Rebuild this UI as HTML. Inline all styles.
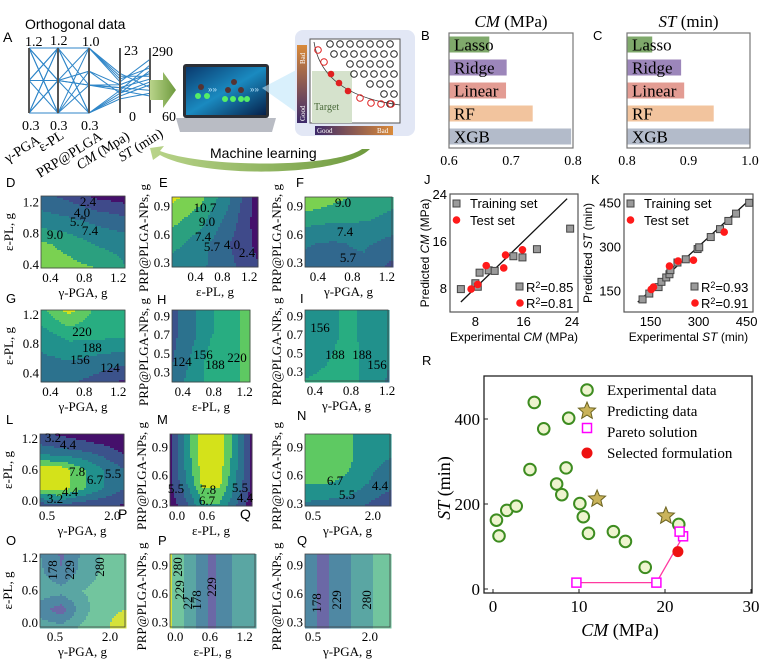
<!DOCTYPE html>
<html><head><meta charset="utf-8"><style>
html,body{margin:0;padding:0;background:#fff;}
svg{display:block;}
.serif{font-family:"Liberation Serif",serif;}
.sans{font-family:"Liberation Sans",sans-serif;}
</style></head><body>
<svg id="fig" width="764" height="671" viewBox="0 0 764 671" xmlns="http://www.w3.org/2000/svg">
<defs>
<linearGradient id="scr" x1="0" y1="0" x2="1" y2="1"><stop offset="0" stop-color="#0a3a6e"/><stop offset="0.5" stop-color="#1a8ac0"/><stop offset="1" stop-color="#06204a"/></linearGradient>
<linearGradient id="vbar" x1="0" y1="0" x2="0" y2="1"><stop offset="0" stop-color="#d98a3a"/><stop offset="1" stop-color="#3d2a6a"/></linearGradient>
<linearGradient id="hbar" x1="0" y1="0" x2="1" y2="0"><stop offset="0" stop-color="#3d2a6a"/><stop offset="1" stop-color="#d98a3a"/></linearGradient>
<linearGradient id="arr" x1="0" y1="0" x2="1" y2="0"><stop offset="0" stop-color="#b9d48a"/><stop offset="1" stop-color="#6e9a3e"/></linearGradient>
</defs>
<g id="panelA">
<text x="3" y="42" class="sans" font-size="14">A</text>
<text x="25" y="29" class="sans" font-size="14">Orthogonal data</text>
<g id="pcLines"></g>
<g id="pcAxes"></g>
<g class="serif" font-size="14">
<text x="25" y="46">1.2</text><text x="50" y="45">1.2</text><text x="82" y="46">1.0</text><text x="124" y="55">23</text><text x="152" y="56">290</text>
<text x="22" y="130">0.3</text><text x="50" y="130">0.3</text><text x="81" y="130">0.3</text><text x="129" y="121">0</text><text x="162" y="121">60</text>
<text transform="translate(8,163) rotate(-32)">γ-PGA</text>
<text transform="translate(42,152) rotate(-32)">ε-PL</text>
<text transform="translate(40,178) rotate(-32)">PRP@PLGA</text>
<text transform="translate(80,170) rotate(-32)"><tspan font-style="italic">CM</tspan> (Mpa)</text>
<text transform="translate(122,162) rotate(-32)"><tspan font-style="italic">ST</tspan> (min)</text>
</g>
<path d="M150,80 L163,80 L163,72 L176,90 L163,108 L163,100 L150,100 Z" fill="url(#arr)"/>
<g>
<rect x="183" y="64" width="86" height="54" rx="3" fill="#2b2f36"/>
<rect x="186" y="67" width="80" height="48" fill="url(#scr)"/>
<path d="M176,118 L276,118 L272,132 L180,132 Z" fill="#b9bcc4"/>
<g fill="#55ee66"><circle cx="198" cy="96" r="3"/><circle cx="207" cy="96" r="3"/><circle cx="225" cy="99" r="3"/><circle cx="233" cy="99" r="3"/><circle cx="241" cy="99" r="3"/><circle cx="247" cy="99" r="3"/></g>
<g fill="#553333"><circle cx="201" cy="87" r="3"/><circle cx="234" cy="82" r="3"/><circle cx="228" cy="90" r="3"/><circle cx="241" cy="90" r="3"/></g>
<text x="208" y="92" fill="#bfe8ff" font-size="8" class="sans">»»</text>
<text x="250" y="92" fill="#bfe8ff" font-size="8" class="sans">»»</text>
</g>
<path d="M262,88 L300,68 L300,115 Z" fill="#bfe6fa" opacity="0.6"/>
<g>
<rect x="295" y="30" width="120" height="106" rx="8" fill="#e2e7f5"/>
<rect x="310" y="39" width="90" height="84" fill="#fff" stroke="#555" stroke-width="1"/>
<rect x="312" y="71" width="40" height="52" fill="#d5e2cc"/>
<text x="314" y="110" class="serif" font-size="10" fill="#4a6a3a">Target</text>
<rect x="297" y="45" width="10" height="78" fill="url(#vbar)"/>
<text transform="translate(305,64) rotate(-90)" class="serif" font-size="7" fill="#fff">Bad</text>
<text transform="translate(305,121) rotate(-90)" class="serif" font-size="7" fill="#fff">Good</text>
<rect x="315" y="126" width="78" height="9" fill="url(#hbar)"/>
<text x="317" y="133" class="serif" font-size="7" fill="#fff">Good</text>
<text x="377" y="133" class="serif" font-size="7" fill="#fff">Bad</text>
<path d="M314,42 Q322,95 400,105" fill="none" stroke="#333" stroke-width="0.8"/>
<g id="schemCircles" fill="none" stroke="#222" stroke-width="1"></g>
<g fill="#e02020"><circle cx="331" cy="74" r="3.3"/><circle cx="339" cy="83" r="3.3"/><circle cx="348" cy="91" r="3.3"/></g>
<g fill="none" stroke="#e02020"><circle cx="318" cy="50" r="3.3"/><circle cx="324" cy="62" r="3.3"/><circle cx="360" cy="98" r="3.3"/><circle cx="371" cy="103" r="3.3"/><circle cx="381" cy="104" r="3.3"/><circle cx="391" cy="104" r="3.3"/></g>
</g>
<path d="M370,149 C340,178 200,178 160,155 L153,160 L150,148 L164,146 L160,151 C205,168 335,168 362,149 Z" fill="url(#arr)"/>
<text x="210" y="158" class="sans" font-size="14">Machine learning</text>
</g>

<g id="barB"></g>
<g id="barC"></g>
<g id="contours"></g>
<g id="scatJ"></g>
<g id="scatK"></g>
<g id="scatR"></g>
</svg>
<script>
// ---------- DATA ----------
const pcRows=[[1.2,1.2,1.0,14,150],[1.2,0.3,0.6,10,200],[1.2,0.75,0.3,8,120],[0.75,1.2,0.3,7,170],[0.75,0.3,1.0,12,220],[0.75,0.75,0.6,9,180],[0.3,1.2,0.6,8,230],[0.3,0.3,0.3,6,160],[0.3,0.75,1.0,11,250],[1.2,0.75,0.6,9,140],[0.3,0.75,0.75,10,200],[0.75,1.2,1.0,13,190],[0.3,1.2,0.3,5,130],[1.2,0.3,0.75,7,210]];
const modelNames=["Lasso","Ridge","Linear","RF","XGB"];
const cmScores=[0.665,0.693,0.692,0.735,0.797];
const stScores=[0.841,0.888,0.893,0.941,1.0];
const cmTicks=[0.6,0.7,0.8];
const stTicks=[0.8,0.9,1.0];
const jTrainX=[5.6,8.0,8.4,8.7,10.2,11.2,14.3,15.8,18.2,23.7];
const jTrainY=[7.8,8.8,8.2,10.6,11.0,10.9,13.4,13.2,14.6,18.1];
const jTestX=[7.3,8.4,9.8,12.7,13.0,15.8];
const jTestY=[7.8,8.6,11.8,11.4,13.6,14.5];
const jTicks=[8,16,24];
const kTrainX=[125,146,175,184,199,209,212,234,260,297,302,338,367,393,417,458];
const kTrainY=[119,139,161,179,194,205,219,245,256,291,297,332,359,387,412,449];
const kTestX=[152,159,209,236,284,380];
const kTestY=[153,161,233,250,253,349];
const kTicks=[150,300,450];
const expCM=[4.8,5.9,8.8,4.3,8.5,7.4,8.0,10.1,10.5,11.1,0.4,0.7,1.6,2.7,14.0,15.4,17.7,21.6];
const expST=[439,377,402,281,285,247,222,201,170,131,162,125,185,195,135,112,51,152];
const predCM=[12.1,20.1];
const predST=[212,172];
const paretoCM=[9.7,19.0,22.1,21.7];
const paretoST=[15,15,124,135];
const selCM=[21.5];
const selST=[88];
const rXTicks=[0,10,20,30];
const rYTicks=[0,200,400];
// contour grids (rows: top->bottom, cols: left->right)
const gridD=[[4.5,3.5,2.0,1.5],[6.5,6.0,5.2,4.5],[9.3,8.5,7.2,6.8],[9.8,9.5,9.0,7.5]];
const gridE=[[11.2,9.5,6.0,1.5],[9.5,8.0,5.0,1.5],[8.0,6.5,4.0,2.0],[6.5,6.0,4.5,2.5]];
const gridF=[[10.8,9.5,8.5,7.8],[8.0,7.6,7.5,7.0],[5.8,5.5,6.0,5.0],[5.4,5.0,5.2,3.5]];
const gridG=[[210,265,210,200],[175,200,200,195],[150,160,150,140],[135,130,110,85]];
const gridH=[[115,145,185,210,230],[115,145,185,210,230],[120,160,200,210,230],[135,170,200,210,230]];
const gridI=[[170,175,195,180,170],[170,175,195,180,170],[175,185,200,180,160],[190,195,200,180,150]];
const gridL=[[3.5,3.0,2.5,2.0,1.8],[5.0,4.8,4.5,4.0,3.0],[8.5,8.5,7.0,5.5,4.5],[8.5,8.5,7.0,5.5,4.5],[3.5,4.0,3.5,3.5,3.0]];
const gridM=[[3,6,8.5,8.5,6,3],[3,6,8.5,8.5,6,3],[3,5.5,8.2,8.2,5.5,3],[2.5,4,6.5,6.5,4.5,2.5]];
const gridN=[[7.3,7.3,7.0,5.8,5.5],[7.3,7.3,7.0,5.8,5.5],[6.9,6.8,6.5,5.5,4.8],[5.2,5.0,4.8,4.2,3.5]];
const gridO=[[230,170,240,290,300],[240,180,250,290,290],[260,250,280,300,310],[200,150,260,320,330],[260,250,290,320,370]];
const gridP=[[340,280,220,160,225,240,235],[340,280,220,160,225,240,235],[340,280,220,160,225,240,235]];
const gridQ=[[220,160,200,240,280,300],[220,160,200,240,280,300]];
const levCM1=[2.4,4.0,5.7,7.4,9.0,10.7];
const levST1=[92,124,156,188,220,252];
const levCM2=[3.2,4.4,5.5,6.7,7.8];
const levST2=[127,178,229,280,331];

// ---------- helpers ----------
const NS="http://www.w3.org/2000/svg";
function mk(tag,attrs,parent){const e=document.createElementNS(NS,tag);for(const k in attrs)e.setAttribute(k,attrs[k]);if(parent)parent.appendChild(e);return e;}
function txt(parent,x,y,s,size,cls,anchor,extra){const t=mk('text',{x:x,y:y,'font-size':size,class:cls,'text-anchor':anchor||'start'},parent);if(extra)for(const k in extra)t.setAttribute(k,extra[k]);t.textContent=s;return t;}

// ---------- Panel A ----------
(function(){
  const g=document.getElementById('pcLines'), ga=document.getElementById('pcAxes');
  const ax=[29,58,89,120,150], top=48, bot=113;
  const mins=[0.3,0.3,0.3,0,60], maxs=[1.2,1.2,1.0,23,290];
  const ys=(i,v)=>bot-(v-mins[i])/(maxs[i]-mins[i])*(bot-top);
  pcRows.forEach(r=>{
    const pts=r.map((v,i)=>ax[i]+','+ys(i,v)).join(' ');
    const l=mk('polyline',{points:pts,fill:'none',stroke:'#2f86c8','stroke-width':1},g);
    
    
  });
  ax.forEach(x=>{const l=mk('line',{x1:x,y1:top,x2:x,y2:bot,stroke:'#555','stroke-width':2},ga);
    });
  const sc=document.getElementById('schemCircles');
  for(let r=0;r<7;r++)for(let c=0;c<7;c++){const cx=330+c*10+(r%2)*4, cy=44+r*10;
    if(cx>398)continue; if(cy>44+ (cx-320)*0.9 && r>1) continue;
    if((cx-312)*(cy-40)<600 && r>=2) continue;
    mk('circle',{cx:cx,cy:cy,r:3.3},sc);}
})();

// ---------- Bar charts ----------
const barColors=['#7fa96b','#9c86ba','#e39c93','#f2c49e','#b3bbca'];
function barChart(id,x0,x1,y0,y1,dmin,dmax,vals,ticks,title,letter,lx){
  const g=document.getElementById(id);
  const sx=v=>x0+(v-dmin)/(dmax-dmin)*(x1-x0);
  const rowH=(y1-y0)/5;
  vals.forEach((v,i)=>{
    const r=mk('rect',{x:x0,y:y0+i*rowH+3.5,width:sx(v)-x0,height:rowH-7,fill:barColors[i]},g);
    
    
    const t=txt(g,x0+5,y0+i*rowH+rowH/2+6,modelNames[i],17,'serif');
    
  });
  const fr=mk('rect',{x:x0,y:y0,width:x1-x0,height:y1-y0,fill:'none',stroke:'#777','stroke-width':1.2},g);
  
  ticks.forEach(v=>{const t=txt(g,sx(v),y1+17,v.toFixed(1),14,'serif','middle');
    });
  const tt=mk('text',{x:(x0+x1)/2,y:y0-6,'font-size':17,class:'serif','text-anchor':'middle'},g);
  tt.innerHTML='<tspan font-style="italic">'+title[0]+'</tspan> '+title[1];
  
  const L=txt(g,lx,y0+7,letter,13,'sans');
  
}
barChart('barB',449,573,33,148,0.6,0.8,cmScores,cmTicks,['CM','(MPa)'],'B',421);
barChart('barC',627,750,33,148,0.8,1.0,stScores,stTicks,['ST','(min)'],'C',593);

// ---------- Contours ----------
const palCM1=['#45106b','#3f4a8a','#31688e','#26828e','#2ba07f','#7ad151','#dce319'];
const palST1=['#46217a','#3b528b','#2c728e','#21918c','#28ad81','#5ec962','#d2e21b'];
const palCM2=['#45106b','#3b528b','#2c728e','#21918c','#5ec962','#d4e21a'];
const palST2=['#5b3f86','#6b68a6','#4f88a3','#5aa6a3','#72c59e','#d5e23a'];
function contour(p){
  const g=mk('g',{},document.getElementById('contours'));
  
  
  const R=p.grid.length,C=p.grid[0].length,cs=2;
  const nx=Math.ceil(p.w/cs), ny=Math.ceil(p.h/cs);
  for(let j=0;j<ny;j++)for(let i=0;i<nx;i++){
    const u=(i+0.5)/nx, v=(j+0.5)/ny;
    const gx=u*(C-1), gy=v*(R-1);
    const c0=Math.min(Math.floor(gx),C-2<0?0:C-2), r0=Math.min(Math.floor(gy),R-2<0?0:R-2);
    const fx=C>1?gx-c0:0, fy=R>1?gy-r0:0;
    const c1=Math.min(c0+1,C-1), r1=Math.min(r0+1,R-1);
    const val=(p.grid[r0][c0]*(1-fx)+p.grid[r0][c1]*fx)*(1-fy)+(p.grid[r1][c0]*(1-fx)+p.grid[r1][c1]*fx)*fy;
    let k=0; while(k<p.levels.length && val>=p.levels[k])k++;
    mk('rect',{x:p.x+i*cs,y:p.y+j*cs,width:cs+0.3,height:cs+0.3,fill:p.pal[k],'shape-rendering':'crispEdges'},g);
  }
  const fr=mk('rect',{x:p.x,y:p.y,width:p.w,height:p.h,fill:'none',stroke:'#444','stroke-width':0.8},g);
  
  const sx=v=>p.x+(v-p.xr[0])/(p.xr[1]-p.xr[0])*p.w;
  const sy=v=>p.y+p.h-(v-p.yr[0])/(p.yr[1]-p.yr[0])*p.h;
  p.xt.forEach(v=>{const t=txt(g,sx(v),p.y+p.h+14,v.toFixed(1),13,'serif','middle');
    });
  p.yt.forEach(v=>{const t=txt(g,p.x-2,sy(v)+4,v.toFixed(1),13,'serif','end');
    });
  const xt=txt(g,p.x+p.w/2,p.y+p.h+29,p.xl,13,'serif','middle');
  
  const yx=p.x-(p.yl.length>8?24:28), yc=p.y+p.h/2+(p.yl.length>8?6:0);
  const yt=txt(g,yx,yc,p.yl,13,'serif','middle',{transform:'rotate(-90 '+yx+' '+yc+')'});
  
  p.labels.forEach(l=>{const t=txt(g,l[1],l[2]+4,l[0],13,'serif','middle',l[3]?{transform:'rotate(-90 '+l[1]+' '+l[2]+')'}:null);
    });
  const L=txt(g,p.lx,p.ly,p.letter,13,'sans');
  
}
const GA='γ-PGA, g', EP='ε-PL, g', PR='PRP@PLGA-NPs, g';
contour({letter:'D',lx:6,ly:187,x:41,y:196,w:84,h:72,grid:gridD,levels:levCM1,pal:palCM1,xr:[0.29,1.28],yr:[0.36,1.28],xt:[0.4,0.8,1.2],yt:[0.4,0.8,1.2],xl:GA,yl:'ε-PL, g',
 labels:[['2.4',88,202],['4.0',82,213],['5.7',78,222],['7.4',90,231],['9.0',55,235]]});
contour({letter:'E',lx:159,ly:187,x:172,y:197,w:86,h:70,grid:gridE,levels:levCM1,pal:palCM1,xr:[0.05,1.33],yr:[0.26,1.0],xt:[0.4,0.8,1.2],yt:[0.3,0.6,0.9],xl:EP,yl:PR,
 labels:[['10.7',205,208],['9.0',207,222],['7.4',203,237],['5.7',212,247],['4.0',232,245],['2.4',247,253]]});
contour({letter:'F',lx:296,ly:187,x:305,y:197,w:87,h:70,grid:gridF,levels:levCM1,pal:palCM1,xr:[0.25,1.26],yr:[0.26,1.0],xt:[0.4,0.8,1.2],yt:[0.3,0.6,0.9],xl:GA,yl:PR,
 labels:[['9.0',343,203],['7.4',345,232],['5.7',348,258]]});
contour({letter:'G',lx:6,ly:303,x:41,y:310,w:84,h:72,grid:gridG,levels:levST1,pal:palST1,xr:[0.29,1.28],yr:[0.28,1.27],xt:[0.4,0.8,1.2],yt:[0.4,0.8,1.2],xl:GA,yl:'ε-PL, g',
 labels:[['220',82,332],['188',92,348],['156',80,360],['124',110,368]]});
contour({letter:'H',lx:157,ly:304,x:172,y:310,w:78,h:72,grid:gridH,levels:levST1,pal:palST1,xr:[0.26,1.27],yr:[0.2,0.97],xt:[0.4,0.8,1.2],yt:[0.3,0.5,0.7,0.9],xl:EP,yl:PR,
 labels:[['124',182,362],['156',203,355],['188',215,365],['220',237,358]]});
contour({letter:'I',lx:300,ly:303,x:305,y:310,w:83,h:71,grid:gridI,levels:levST1,pal:palST1,xr:[0.29,1.21],yr:[0.2,0.97],xt:[0.4,0.8,1.2],yt:[0.3,0.5,0.7,0.9],xl:GA,yl:PR,
 labels:[['156',320,328],['188',335,355],['188',362,355],['156',377,365]]});
contour({letter:'L',lx:6,ly:424,x:40,y:434,w:84,h:72,grid:gridL,levels:levCM2,pal:palCM2,xr:[0.34,2.27],yr:[-0.1,1.3],xt:[0.5,2.0],yt:[0.0,0.6,1.2],xl:GA,yl:'ε-PL, g',
 labels:[['3.2',53,438],['4.4',68,445],['7.8',77,472],['6.7',95,480],['5.5',113,474],['4.4',70,492],['3.2',55,499]]});
contour({letter:'M',lx:157,ly:424,x:170,y:434,w:82,h:72,grid:gridM,levels:levCM2,pal:palCM2,xr:[-0.14,1.5],yr:[0.28,1.04],xt:[0.0,0.6],yt:[0.3,0.6,0.9],xl:EP,yl:PR,
 labels:[['5.5',176,489],['7.8',208,490],['5.5',240,488],['4.4',245,498],['6.7',207,501]]});
contour({letter:'N',lx:297,ly:420,x:305,y:434,w:85,h:72,grid:gridN,levels:levCM2,pal:palCM2,xr:[0.3,2.43],yr:[0.28,1.04],xt:[0.5,2.0],yt:[0.3,0.6,0.9],xl:GA,yl:PR,
 labels:[['6.7',335,481],['5.5',347,495],['4.4',380,486]]});
contour({letter:'O',lx:6,ly:545,x:40,y:554,w:85,h:73,grid:gridO,levels:levST2,pal:palST2,xr:[0.09,2.41],yr:[-0.07,1.27],xt:[0.5,2.0],yt:[0.0,0.6,1.2],xl:GA,yl:'ε-PL, g',
 labels:[['178',53,570,1],['229',70,570,1],['280',100,567,1]]});
contour({letter:'P',lx:158,ly:545,x:170,y:554,w:85,h:73,grid:gridP,levels:levST2,pal:palST2,xr:[-0.09,1.38],yr:[0.25,1.02],xt:[0.0,0.6,1.2],yt:[0.3,0.6,0.9],xl:EP,yl:PR,
 labels:[['280',178,567,1],['229',180,590,1],['22',188,603,1],['178',197,600,1],['229',212,587,1]]});
contour({letter:'Q',lx:297,ly:545,x:305,y:554,w:85,h:73,grid:gridQ,levels:levST2,pal:palST2,xr:[0.29,2.53],yr:[0.25,1.02],xt:[0.5,2.0],yt:[0.3,0.6,0.9],xl:GA,yl:PR,
 labels:[['178',317,603,1],['229',337,600,1],['280',367,600,1]]});
(function(){const g=document.getElementById('contours');
 const a=txt(g,118,519,'P',14,'sans');
 const b=txt(g,240,519,'Q',14,'sans');})();

// ---------- Parity plots ----------
function parity(id,b,dr,ticks,trX,trY,teX,teY,ylab,xlab,letter,lx,r2,ytx){
  const g=document.getElementById(id);
  const sx=v=>b.x0+(v-dr.x[0])/(dr.x[1]-dr.x[0])*(b.x1-b.x0);
  const sy=v=>b.y1-(v-dr.y[0])/(dr.y[1]-dr.y[0])*(b.y1-b.y0);
  const fr=mk('rect',{x:b.x0,y:b.y0,width:b.x1-b.x0,height:b.y1-b.y0,fill:'none',stroke:'#555','stroke-width':1.2},g);
  
  const ln=mk('line',{x1:sx(dr.l[0]),y1:sy(dr.l[0]),x2:sx(dr.l[1]),y2:sy(dr.l[1]),stroke:'#111','stroke-width':1.3},g);
  
  trX.forEach((v,i)=>{const r=mk('rect',{x:sx(v)-3.5,y:sy(trY[i])-3.5,width:7,height:7,fill:'#9a9a9a',stroke:'#444','stroke-width':1},g);
    });
  teX.forEach((v,i)=>{const c=mk('circle',{cx:sx(v),cy:sy(teY[i]),r:3.8,fill:'#ff1a1a'},g);
    });
  ticks.forEach(v=>{
    const t=txt(g,sx(v),b.y1+14,String(v),13,'sans','middle');
    const u=txt(g,b.x0-3,sy(v)+5,String(v),13,'sans','end');
  });
  const lr=mk('rect',{x:b.x0+3,y:b.y0+6,width:7,height:7,fill:'#9a9a9a',stroke:'#444'},g);
  
  const lt=txt(g,b.x0+20,b.y0+14,'Training set',13,'sans');
  const lc=mk('circle',{cx:b.x0+6.5,cy:b.y0+26,r:3.8,fill:'#ff1a1a'},g);
  
  const lt2=txt(g,b.x0+20,b.y0+31,'Test set',13,'sans');
  const rr=mk('rect',{x:b.x1-62,y:b.y1-29,width:7,height:7,fill:'#9a9a9a',stroke:'#444'},g);
  
  const r1=mk('text',{x:b.x1-52,y:b.y1-20,'font-size':13,class:'sans'},g);r1.innerHTML='R<tspan font-size="9" dy="-4">2</tspan><tspan dy="4">='+r2[0]+'</tspan>';
  
  const rc=mk('circle',{cx:b.x1-58,cy:b.y1-9,r:3.8,fill:'#ff1a1a'},g);
  
  const r3=mk('text',{x:b.x1-52,y:b.y1-4,'font-size':13,class:'sans'},g);r3.innerHTML='R<tspan font-size="9" dy="-4">2</tspan><tspan dy="4">='+r2[1]+'</tspan>';
  
  const yc=(b.y0+b.y1)/2;
  const yt=mk('text',{x:ytx,y:yc,'font-size':12,class:'sans','text-anchor':'middle',transform:'rotate(-90 '+ytx+' '+yc+')'},g);
  yt.innerHTML='Predicted <tspan font-style="italic">'+ylab+'</tspan> '+xlab;
  
  const xt=mk('text',{x:(b.x0+b.x1)/2,y:b.y1+29,'font-size':12,class:'sans','text-anchor':'middle'},g);
  xt.innerHTML='Experimental  <tspan font-style="italic">'+ylab+'</tspan> '+xlab;
  
  const L=txt(g,lx,b.y0-10,letter,13,'sans');
}
parity('scatJ',{x0:450,x1:578,y0:194,y1:312},{x:[3.8,25.0],y:[3.9,24.0],l:[5.6,23.2]},jTicks,jTrainX,jTrainY,jTestX,jTestY,'CM','(MPa)','J',424,['0.85','0.81'],429);
parity('scatK',{x0:624,x1:753,y0:194,y1:312},{x:[67,470],y:[76,479],l:[110,450]},kTicks,kTrainX,kTrainY,kTestX,kTestY,'ST','(min)','K',591,['0.93','0.91'],592);

// ---------- Panel R ----------
(function(){
  const g=document.getElementById('scatR');
  const b={x0:484,x1:752,y0:376,y1:593};
  const sx=v=>493+v*8.6, sy=v=>589-v*0.425;
  const fr=mk('rect',{x:b.x0,y:b.y0,width:b.x1-b.x0,height:b.y1-b.y0,fill:'none',stroke:'#222','stroke-width':1.3},g);
  
  rXTicks.forEach(v=>{mk('line',{x1:sx(v),y1:b.y1,x2:sx(v),y2:b.y1-4,stroke:'#222'},g);
    const t=txt(g,sx(v),b.y1+19,String(v),17,'serif','middle');});
  rYTicks.forEach(v=>{mk('line',{x1:b.x0,y1:sy(v),x2:b.x0+4,y2:sy(v),stroke:'#222'},g);
    const t=txt(g,b.x0-4,sy(v)+6,String(v),17,'serif','end');});
  const pl=mk('polyline',{points:[0,1,2].map(i=>sx(paretoCM[i])+','+sy(paretoST[i])).join(' '),fill:'none',stroke:'#ff3aa0','stroke-width':1.3},g);
  
  expCM.forEach((v,i)=>{const c=mk('circle',{cx:sx(v),cy:sy(expST[i]),r:5.8,fill:'#eef4cf',stroke:'#3d8c20','stroke-width':2},g);
    });
  const star=(cx,cy,r)=>{let p=[];for(let k=0;k<10;k++){const a=-Math.PI/2+k*Math.PI/5, rr=k%2?r*0.45:r;p.push((cx+rr*Math.cos(a)).toFixed(1)+','+(cy+rr*Math.sin(a)).toFixed(1));}return p.join(' ');};
  predCM.forEach((v,i)=>{const s=mk('polygon',{points:star(sx(v),sy(predST[i]),9),fill:'#c9b35a',stroke:'#6b6320','stroke-width':1},g);
    });
  paretoCM.forEach((v,i)=>{const r=mk('rect',{x:sx(v)-4.5,y:sy(paretoST[i])-4.5,width:9,height:9,fill:'#fff',stroke:'#ff00ff','stroke-width':1.5},g);
    });
  selCM.forEach((v,i)=>{const c=mk('circle',{cx:sx(v),cy:sy(selST[i]),r:5.5,fill:'#ee1111'},g);
    });
  const lg=mk('g',{},g);
  const lx=587;
  mk('circle',{cx:lx,cy:390,r:5.8,fill:'#eef4cf',stroke:'#3d8c20','stroke-width':2},lg);
  mk('polygon',{points:star(lx,411,9),fill:'#c9b35a',stroke:'#6b6320'},lg);
  mk('rect',{x:lx-4.5,y:428-4.5,width:9,height:9,fill:'#fff',stroke:'#ff00ff','stroke-width':1.5},lg);
  mk('circle',{cx:lx,cy:453,r:5.5,fill:'#ee1111'},lg);
  ['Experimental data','Predicting data','Pareto solution','Selected formulation'].forEach((s,i)=>{
    const t=txt(lg,607,[395,416,437,458][i],s,15,'serif');});
  const yt=mk('text',{x:450,y:488,'font-size':18,class:'serif','text-anchor':'middle',transform:'rotate(-90 450 488)'},g);
  yt.innerHTML='<tspan font-style="italic">ST</tspan> (min)';
  const xt=mk('text',{x:620,y:636,'font-size':18,class:'serif','text-anchor':'middle'},g);
  xt.innerHTML='<tspan font-style="italic">CM</tspan> (MPa)';
  const L=txt(g,422,365,'R',13,'sans');
})();
</script>
</body></html>
